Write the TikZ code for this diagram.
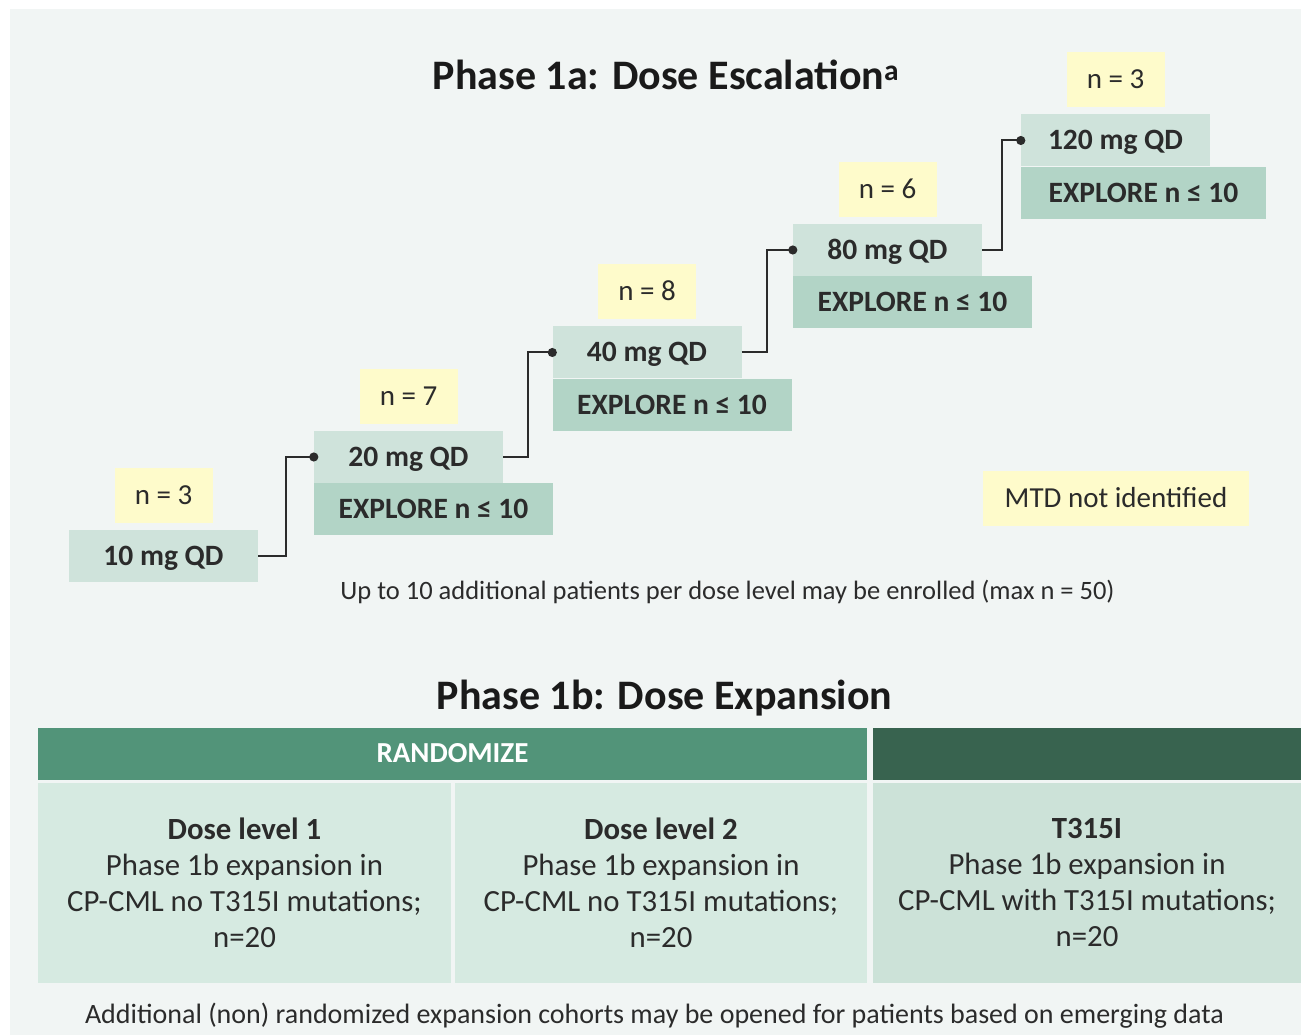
\documentclass[tikz,border=0pt]{standalone}
\usepackage{fontspec}
\setmainfont{Carlito}
\usetikzlibrary{calc,arrows.meta,positioning}
\definecolor{bgpanel}{HTML}{F1F5F4}
\definecolor{doselight}{HTML}{CFE3DB}
\definecolor{dosedark}{HTML}{B2D4C6}
\definecolor{noteyellow}{HTML}{FEFBCB}
\definecolor{headgreen}{HTML}{529479}
\definecolor{headdark}{HTML}{38634F}
\definecolor{celllight}{HTML}{D6EAE1}
\definecolor{cellmid}{HTML}{CCE2D8}
\definecolor{inkgray}{HTML}{2B2B2B}
\definecolor{inktitle}{HTML}{1A1A1A}

\begin{document}
\begin{tikzpicture}[x=1pt,y=1pt,
  every node/.style={font=\fontsize{26.5}{32}\selectfont,text=inkgray},
  dose/.style={fill=doselight,minimum width=189pt,minimum height=52pt,inner sep=0pt,
    text height=18.5pt,text depth=0pt,font=\fontsize{29.5}{35}\selectfont\bfseries},
  explore/.style={fill=dosedark,minimum width=239pt,minimum height=52pt,inner sep=0pt,
    text height=18.5pt,text depth=0pt,anchor=north west,font=\fontsize{29.5}{35}\selectfont\bfseries},
  count/.style={fill=noteyellow,minimum width=98pt,minimum height=55pt,inner sep=0pt,
    text height=18pt,text depth=0pt,font=\fontsize{29}{35}\selectfont},
  title/.style={font=\fontsize{42}{50}\selectfont\bfseries,text=inktitle},
  head/.style={minimum height=52pt,inner sep=0pt,text=white,
    text height=18pt,text depth=0pt,font=\fontsize{29}{35}\selectfont\bfseries},
  cell/.style={fill=celllight,minimum height=200pt,inner sep=0pt,align=center,
    font=\fontsize{30.8}{36}\selectfont},
  link/.style={line width=2pt,draw=inkgray,-{Circle[length=9pt]},shorten >=-4.5pt}]
  \useasboundingbox (0,0) rectangle (1301,1035);
  \fill[bgpanel] (10,0) rectangle (1301,1026);

  % Phase 1a
  \node[title] (title1a) at (666,960) {Phase 1a: Dose Escalation\textsuperscript{a}};
  \node[dose] (d10) at (163.5,479) {10 mg QD};
  \node[dose] (d20) at (408.5,578) {20 mg QD};
  \node[dose] (d40) at (647,682.5) {40 mg QD};
  \node[dose] (d80) at (887.5,785) {80 mg QD};
  \node[dose] (d120) at (1115.5,894.5) {120 mg QD};
  \node[explore] (e20) at (d20.south west) {EXPLORE n ≤ 10};
  \node[explore] (e40) at (d40.south west) {EXPLORE n ≤ 10};
  \node[explore] (e80) at (d80.south west) {EXPLORE n ≤ 10};
  \node[explore,minimum width=245pt] (e120) at (d120.south west) {EXPLORE n ≤ 10};
  \node[count,above=7pt of d10] (n10) {n = 3};
  \node[count,above=7pt of d20] (n20) {n = 7};
  \node[count,above=7pt of d40] (n40) {n = 8};
  \node[count,above=7pt of d80] (n80) {n = 6};
  \node[count,above=7pt of d120] (n120) {n = 3};
  \draw[link] (d10.east) -| ($(d10.east)!.5!(d20.west)$) |- (d20.west);
  \draw[link] (d20.east) -| ($(d20.east)!.5!(d40.west)$) |- (d40.west);
  \draw[link] (d40.east) -| ($(d40.east)!.5!(d80.west)$) |- (d80.west);
  \draw[link] (d80.east) -| ($(d80.east)!.5!(d120.west)$) |- (d120.west);
  \node[count,minimum width=266pt] (mtd) at (1116,536.5) {MTD not identified};
  \node (extra) at (727.5,443) {Up to 10 additional patients per dose level may be enrolled (max n = 50)};

  % Phase 1b
  \node[title] (title1b) at (664.5,337) {Phase 1b: Dose Expansion};
  \node[head,fill=headgreen,minimum width=829pt] (rand) at (452.5,281) {RANDOMIZE};
  \node[head,fill=headdark,minimum width=428pt] (t315h) at (1087,281) {};
  \node[cell,minimum width=413pt] (c1) at (244.5,152)
    {\textbf{Dose level 1}\\Phase 1b expansion in\\CP-CML no T315I mutations;\\n=20};
  \node[cell,minimum width=412pt] (c2) at (661,152)
    {\textbf{Dose level 2}\\Phase 1b expansion in\\CP-CML no T315I mutations;\\n=20};
  \node[cell,fill=cellmid,minimum width=428pt] (c3) at (1087,152)
    {\textbf{T315I}\\Phase 1b expansion in\\CP-CML with T315I mutations;\\n=20};
  \node[font=\fontsize{28}{34}\selectfont] (cohorts) at (654.5,19)
    {Additional (non) randomized expansion cohorts may be opened for patients based on emerging data};
\end{tikzpicture}
\end{document}
